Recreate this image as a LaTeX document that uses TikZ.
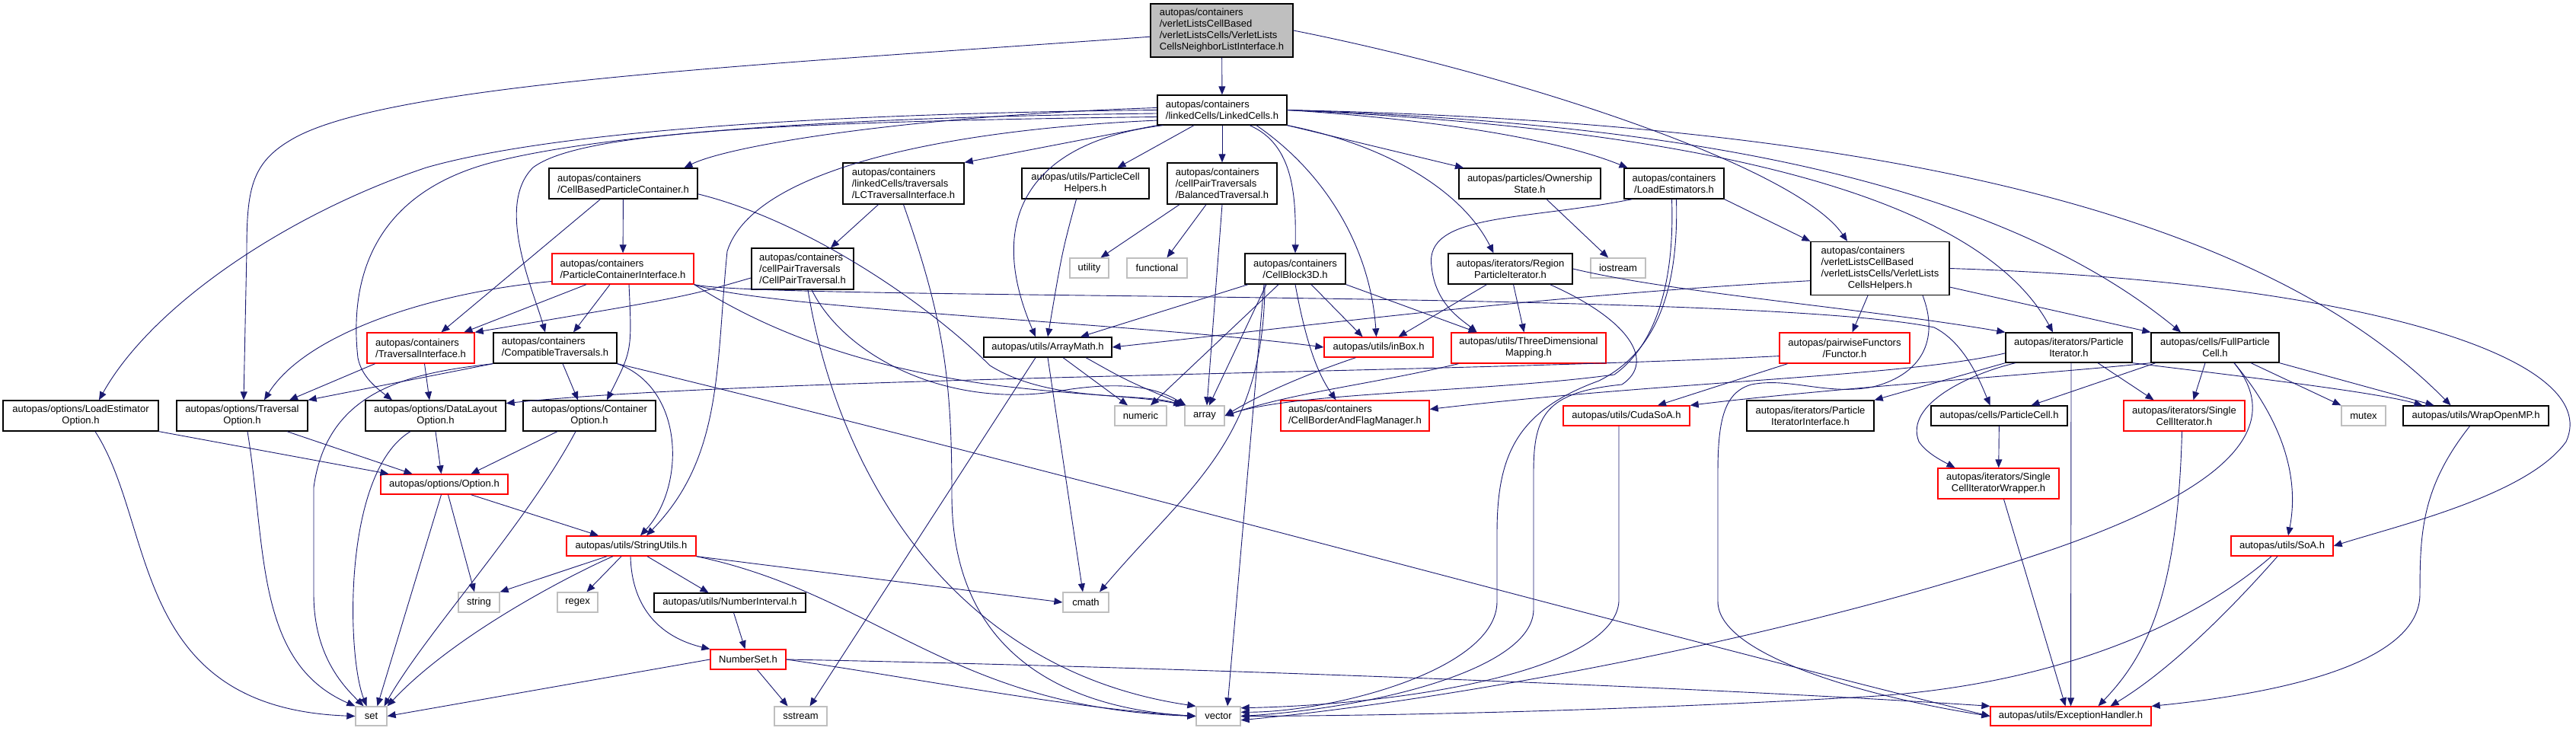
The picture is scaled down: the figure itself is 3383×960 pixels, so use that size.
\documentclass[tikz,border=0pt]{standalone}
\usepackage{fontspec}
\setmainfont{Liberation Sans}
\usetikzlibrary{arrows.meta}
\definecolor{edgeblue}{HTML}{191970}
\definecolor{rootgray}{HTML}{BFBFBF}
\definecolor{sysgray}{HTML}{BFBFBF}
\definecolor{cutred}{HTML}{FF0000}
\newcommand{\lastline}[1]{\null\hfill#1\hfill\null}

\begin{document}
\begin{tikzpicture}[
  x=1pt, y=-1pt,
  font=\fontsize{13}{15}\selectfont,
  dims/.style 2 args={minimum width=#1pt, minimum height=#2pt},
  box/.style={draw=black, line width=1.3pt, fill=white, align=left, inner sep=0pt},
  cutbox/.style={box, draw=cutred},
  sysbox/.style={box, draw=sysgray},
  flow/.style={-{Triangle[length=11pt, width=9pt]}, line width=0.9pt, draw=edgeblue},
]
  \fill[white] (0,0) rectangle (3383,960);
  \useasboundingbox (0,0) rectangle (3383,960);

  % root file and its first include
  \node[box, fill=rootgray, dims={187}{70}] (vlcnli) at (1604.5,40)
    {autopas/containers\\/verletListsCellBased\\/verletListsCells/VerletLists\\\lastline{CellsNeighborListInterface.h}};
  \node[box, dims={170}{39}] (linked-cells) at (1605,144.5)
    {autopas/containers\\\lastline{/linkedCells/LinkedCells.h}};

  % second row
  \node[box, dims={195}{40}] (cell-based) at (818.5,241)
    {autopas/containers\\\lastline{/CellBasedParticleContainer.h}};
  \node[box, dims={159}{54}] (lc-traversal) at (1186.5,241)
    {autopas/containers\\/linkedCells/traversals\\\lastline{/LCTraversalInterface.h}};
  \node[box, dims={167}{40}] (cell-helpers) at (1425.5,241)
    {autopas/utils/ParticleCell\\\lastline{Helpers.h}};
  \node[box, dims={144}{54}] (balanced) at (1605,241)
    {autopas/containers\\/cellPairTraversals\\\lastline{/BalancedTraversal.h}};
  \node[box, dims={186}{40}] (ownership) at (2009,241)
    {autopas/particles/Ownership\\\lastline{State.h}};
  \node[box, dims={131}{40}] (load-estimators) at (2198.5,241)
    {autopas/containers\\\lastline{/LoadEstimators.h}};

  % third row
  \node[cutbox, dims={186}{40}] (container-interface) at (818,353)
    {autopas/containers\\\lastline{/ParticleContainerInterface.h}};
  \node[box, dims={134}{54}] (cellpair) at (1054,353)
    {autopas/containers\\/cellPairTraversals\\\lastline{/CellPairTraversal.h}};
  \node[sysbox, dims={51}{26}] (utility) at (1430.5,352) {utility};
  \node[sysbox, dims={79}{26}] (functional) at (1519.5,352) {functional};
  \node[box, dims={132}{40}] (cell-block) at (1701,353)
    {autopas/containers\\\lastline{/CellBlock3D.h}};
  \node[box, dims={163}{40}] (region-iterator) at (1983.5,353)
    {autopas/iterators/Region\\\lastline{ParticleIterator.h}};
  \node[sysbox, dims={72}{26}] (iostream) at (2125,352) {iostream};
  \node[box, dims={182}{70}] (vlc-helpers) at (2469,352.5)
    {autopas/containers\\/verletListsCellBased\\/verletListsCells/VerletLists\\\lastline{CellsHelpers.h}};

  % fourth row
  \node[cutbox, dims={141}{40}] (traversal-interface) at (552.5,457)
    {autopas/containers\\\lastline{/TraversalInterface.h}};
  \node[box, dims={162}{40}] (compatible) at (729,457)
    {autopas/containers\\\lastline{/CompatibleTraversals.h}};
  \node[box, dims={168}{26}] (array-math) at (1376,456) {autopas/utils/ArrayMath.h};
  \node[cutbox, dims={143}{26}] (in-box) at (1810.5,456) {autopas/utils/inBox.h};
  \node[cutbox, dims={203}{40}] (three-dim) at (2007.5,457)
    {autopas/utils/ThreeDimensional\\\lastline{Mapping.h}};
  \node[cutbox, dims={171}{40}] (functor) at (2422.5,457)
    {autopas/pairwiseFunctors\\\lastline{/Functor.h}};
  \node[box, dims={166}{39}] (particle-iterator) at (2717,456.5)
    {autopas/iterators/Particle\\\lastline{Iterator.h}};
  \node[box, dims={168}{39}] (full-cell) at (2909,456.5)
    {autopas/cells/FullParticle\\\lastline{Cell.h}};

  % fifth row
  \node[box, dims={204}{40}] (load-option) at (106,546)
    {autopas/options/LoadEstimator\\\lastline{Option.h}};
  \node[box, dims={172}{40}] (traversal-option) at (318,546)
    {autopas/options/Traversal\\\lastline{Option.h}};
  \node[box, dims={184}{40}] (layout-option) at (572,546)
    {autopas/options/DataLayout\\\lastline{Option.h}};
  \node[box, dims={174}{40}] (container-option) at (774,546)
    {autopas/options/Container\\\lastline{Option.h}};
  \node[sysbox, dims={68}{26}] (numeric) at (1498,546) {numeric};
  \node[sysbox, dims={52}{26}] (array) at (1582,546) {array};
  \node[cutbox, dims={195}{40}] (border-manager) at (1779.5,546)
    {autopas/containers\\\lastline{/CellBorderAndFlagManager.h}};
  \node[cutbox, dims={166}{26}] (cuda-soa) at (2136,546) {autopas/utils/CudaSoA.h};
  \node[box, dims={167}{40}] (iterator-interface) at (2377.5,546)
    {autopas/iterators/Particle\\\lastline{IteratorInterface.h}};
  \node[box, dims={179}{26}] (particle-cell) at (2625.5,546) {autopas/cells/ParticleCell.h};
  \node[cutbox, dims={159}{40}] (single-iterator) at (2868.5,546)
    {autopas/iterators/Single\\\lastline{CellIterator.h}};
  \node[sysbox, dims={58}{26}] (mutex) at (3104,546) {mutex};
  \node[box, dims={191}{26}] (wrap-openmp) at (3251.5,546) {autopas/utils/WrapOpenMP.h};

  % lower rows
  \node[cutbox, dims={167}{26}] (option) at (583.5,636) {autopas/options/Option.h};
  \node[cutbox, dims={159}{40}] (iterator-wrapper) at (2624.5,635)
    {autopas/iterators/Single\\\lastline{CellIteratorWrapper.h}};
  \node[cutbox, dims={170}{26}] (string-utils) at (829,717) {autopas/utils/StringUtils.h};
  \node[cutbox, dims={134}{26}] (soa) at (2997,717) {autopas/utils/SoA.h};
  \node[sysbox, dims={54}{26}] (string) at (629,791) {string};
  \node[sysbox, dims={53}{26}] (regex) at (758.5,791) {regex};
  \node[box, dims={199}{25}] (number-interval) at (958.5,791.5) {autopas/utils/NumberInterval.h};
  \node[sysbox, dims={60}{26}] (cmath) at (1426,791) {cmath};
  \node[cutbox, dims={99}{26}] (number-set) at (982.5,866) {NumberSet.h};
  \node[sysbox, dims={41}{25}] (set) at (487.5,940.5) {set};
  \node[sysbox, dims={69}{25}] (sstream) at (1051.5,940.5) {sstream};
  \node[sysbox, dims={58}{25}] (vector) at (1600,940.5) {vector};
  \node[cutbox, dims={211}{25}] (exception) at (2719.5,940.5) {autopas/utils/ExceptionHandler.h};

  % includes of the root file
  \draw[flow] (vlcnli) -- (linked-cells);
  \draw[flow] (vlcnli.185) .. controls (1000,85) and (500,110) .. (380,185)
    .. controls (330,215) and (324,250) .. (324,330) -- ([xshift=2pt]traversal-option.north);
  \draw[flow] (vlcnli.east) .. controls (2000,100) and (2360,220) .. ([xshift=-43pt]vlc-helpers.north);

  % includes of LinkedCells.h
  \draw[flow] (linked-cells.178) .. controls (1200,152) and (960,190) .. ([xshift=80pt]cell-based.north);
  \draw[flow] (linked-cells.south west) -- (lc-traversal.north east);
  \draw[flow] ([xshift=-37pt]linked-cells.south) -- ([xshift=42pt]cell-helpers.north);
  \draw[flow] (linked-cells) -- (balanced);
  \draw[flow] (linked-cells.south east) -- ([xshift=-87pt]ownership.north);
  \draw[flow] (linked-cells.east) .. controls (1900,158) and (2050,185) .. ([xshift=-61pt]load-estimators.north);
  \draw[flow] ([xshift=36pt]linked-cells.south) .. controls (1700,190) and (1702,260) .. (cell-block.north);
  \draw[flow] (linked-cells.south east) .. controls (1820,190) and (1920,250) .. ([xshift=-22pt]region-iterator.north);
  \draw[flow] ([xshift=45pt]linked-cells.south) .. controls (1745,230) and (1800,330) .. ([xshift=-3pt]in-box.north);
  \draw[flow] (linked-cells.east) .. controls (2250,170) and (2600,260) .. ([xshift=-21pt]particle-iterator.north);
  \draw[flow] (linked-cells.east) .. controls (2150,160) and (2600,220) .. ([xshift=-45pt]full-cell.north);
  \draw[flow] (linked-cells.east) .. controls (2400,160) and (2950,260) .. ([xshift=-33pt]wrap-openmp.north);
  \draw[flow] (linked-cells.180) .. controls (1000,150) and (700,180) .. (560,220)
    .. controls (380,280) and (200,400) .. ([xshift=24pt]load-option.north);
  \draw[flow] (linked-cells.183) .. controls (1000,155) and (750,185) .. (640,215)
    .. controls (480,260) and (460,380) .. (470,470) .. controls (475,495) and (495,510) .. ([xshift=-57pt]layout-option.north);
  \draw[flow] (linked-cells.186) .. controls (1000,160) and (760,175) .. (700,220)
    .. controls (650,270) and (700,380) .. ([xshift=-13pt]compatible.north);
  \draw[flow] (linked-cells.189) .. controls (1250,170) and (990,220) .. (955,330)
    .. controls (940,480) and (950,600) .. ([xshift=20pt]string-utils.north);
  \draw[flow] ([xshift=8pt]linked-cells.south west) .. controls (1360,185) and (1290,280) .. ([xshift=-16pt]array-math.north);

  % containers
  \draw[flow] (cell-based) -- (container-interface);
  \draw[flow] ([xshift=-30pt]cell-based.south) -- ([xshift=27pt]traversal-interface.north);
  \draw[flow] (cell-based.-8) .. controls (1060,290) and (1220,400) .. (1300,480)
    .. controls (1380,530) and (1500,515) .. ([xshift=-3pt]array.north west);
  \draw[flow] ([xshift=-48pt]container-interface.south) -- ([xshift=57pt]traversal-interface.north);
  \draw[flow] ([xshift=-17pt]container-interface.south) -- ([xshift=24pt]compatible.north);
  \draw[flow] (container-interface.190) .. controls (560,385) and (400,440) .. ([xshift=29pt]traversal-option.north);
  \draw[flow] ([xshift=8pt]container-interface.south) .. controls (830,460) .. ([xshift=23pt]container-option.north);
  \draw[flow] (container-interface.south east) .. controls (1000,405) and (1500,425) .. (in-box.west);
  \draw[flow] (container-interface.south east) .. controls (1000,395) and (2300,380) .. (2540,430)
    .. controls (2580,450) and (2600,500) .. ([xshift=-12pt]particle-cell.north);
  \draw[flow] (container-interface.south east) .. controls (1000,430) and (1120,480) .. (1300,505)
    .. controls (1420,520) and (1500,520) .. (array.north west);
  \draw[flow] ([xshift=-33pt]lc-traversal.south) -- ([xshift=37pt]cellpair.north);
  \draw[flow] (lc-traversal.south) .. controls (1240,420) and (1250,500) .. (1250,650)
    .. controls (1250,860) and (1400,930) .. (vector.west);
  \draw[flow] (cellpair.190) .. controls (900,390) .. (traversal-interface.north east);
  \draw[flow] ([xshift=7pt]cellpair.south) .. controls (1100,620) and (1250,880) .. (vector.north west);
  \draw[flow] ([xshift=12pt]cellpair.south) .. controls (1110,470) and (1250,540) .. (1400,512)
    .. controls (1480,500) and (1520,510) .. ([xshift=2pt]array.north west);

  % traversals and options
  \draw[flow] ([xshift=-60pt]traversal-interface.south) -- ([xshift=62pt]traversal-option.north);
  \draw[flow] ([xshift=5pt]traversal-interface.south) -- ([xshift=-8pt]layout-option.north);
  \draw[flow] (compatible.south west) -- (traversal-option.north east);
  \draw[flow] ([xshift=10pt]compatible.south) -- ([xshift=-15pt]container-option.north);
  \draw[flow] (compatible.south west) .. controls (540,490) and (430,510) .. (412,640) -- (412,780)
    .. controls (412,860) and (450,900) .. ([xshift=-10pt]set.north);
  \draw[flow] (compatible.south east) .. controls (900,510) and (900,640) .. ([xshift=12pt]string-utils.north);
  \draw[flow] (compatible.south east) .. controls (1400,620) and (2200,840) .. (exception.west);
  \draw[flow] (load-option.south east) -- ([xshift=-73pt]option.north);
  \draw[flow] ([xshift=19pt]load-option.south) .. controls (205,690) and (170,930) .. (set.west);
  \draw[flow] ([xshift=59pt]traversal-option.south) -- ([xshift=-42pt]option.north);
  \draw[flow] ([xshift=7pt]traversal-option.south) .. controls (350,720) and (335,870) .. (set.north west);
  \draw[flow] (layout-option.south) -- ([xshift=-4pt]option.north);
  \draw[flow] ([xshift=-33pt]layout-option.south) .. controls (450,620) and (455,860) .. ([xshift=-6pt]set.north);
  \draw[flow] ([xshift=-42pt]container-option.south) -- ([xshift=35pt]option.north);
  \draw[flow] ([xshift=-18pt]container-option.south) .. controls (690,690) and (560,830) .. ([xshift=17pt]set.north);
  \draw[flow] ([xshift=-4pt]option.south) -- ([xshift=8pt]set.north);
  \draw[flow] ([xshift=5pt]option.south) -- ([xshift=-6pt]string.north);
  \draw[flow] ([xshift=35pt]option.south) -- ([xshift=-43pt]string-utils.north);

  % utils
  \draw[flow] ([xshift=-24pt]string-utils.south) .. controls (760,750) and (600,830) .. (set.north east);
  \draw[flow] ([xshift=-32pt]string-utils.south) -- (string.north east);
  \draw[flow] ([xshift=-13pt]string-utils.south) -- ([xshift=12pt]regex.north);
  \draw[flow] ([xshift=-1pt]string-utils.south) .. controls (830,810) and (880,840) .. (number-set.north west);
  \draw[flow] ([xshift=21pt]string-utils.south) -- ([xshift=-28pt]number-interval.north);
  \draw[flow] (string-utils.south east) -- (cmath.west);
  \draw[flow] (string-utils.south east) .. controls (1150,780) and (1250,930) .. (vector.west);
  \draw[flow] ([xshift=5pt]number-interval.south) -- ([xshift=-4pt]number-set.north);
  \draw[flow] (number-set.west) -- (set.east);
  \draw[flow] ([xshift=12pt]number-set.south) -- ([xshift=-17pt]sstream.north);
  \draw[flow] (number-set.east) .. controls (1200,890) and (1400,930) .. (vector.west);
  \draw[flow] (number-set.east) .. controls (1500,875) and (2200,900) .. (exception.north west);
  \draw[flow] ([xshift=-16pt]array-math.south) -- ([xshift=12pt]sstream.north);
  \draw[flow] (array-math.south) -- ([xshift=-4pt]cmath.north);
  \draw[flow] ([xshift=20pt]array-math.south) -- ([xshift=-17pt]numeric.north);
  \draw[flow] ([xshift=50pt]array-math.south) .. controls (1480,500) .. ([xshift=1pt]array.north west);
  \draw[flow] ([xshift=-12pt]cell-helpers.south) .. controls (1395,330) .. (array-math.north);
  \draw[flow] ([xshift=-56pt]balanced.south) -- ([xshift=15pt]utility.north);
  \draw[flow] ([xshift=-21pt]balanced.south) -- ([xshift=13pt]functional.north);
  \draw[flow] (balanced.south) -- ([xshift=3pt]array.north);
  \draw[flow] ([xshift=22pt]ownership.south) -- ([xshift=-13pt]iostream.north);

  % cell block and load estimators
  \draw[flow] (cell-block.south) .. controls (1715,450) and (1730,490) .. ([xshift=-25pt]border-manager.north);
  \draw[flow] ([xshift=-62pt]cell-block.south) -- ([xshift=43pt]array-math.north);
  \draw[flow] ([xshift=21pt]cell-block.south) -- ([xshift=-21pt]in-box.north);
  \draw[flow] (cell-block.south east) -- ([xshift=-68pt]three-dim.north);
  \draw[flow] ([xshift=-22pt]cell-block.south) -- ([xshift=13pt]numeric.north);
  \draw[flow] ([xshift=-38pt]cell-block.south) -- ([xshift=6pt]array.north);
  \draw[flow] ([xshift=-40pt]cell-block.south) .. controls (1660,580) and (1560,640) .. ([xshift=18pt]cmath.north);
  \draw[flow] ([xshift=-41pt]cell-block.south) -- ([xshift=12pt]vector.north);
  \draw[flow] (load-estimators.south east) -- (vlc-helpers.north west);
  \draw[flow] ([xshift=-55pt]load-estimators.south) .. controls (2000,290) and (1870,280) .. (1880,350)
    .. controls (1885,400) and (1920,420) .. ([xshift=-68pt]three-dim.north);
  \draw[flow] ([xshift=3pt]load-estimators.south) .. controls (2205,390) and (2170,465) .. (2100,500)
    .. controls (1990,540) and (1966,600) .. (1966,700) -- (1966,790)
    .. controls (1966,880) and (1750,935) .. (vector.10);
  \draw[flow] ([xshift=-3pt]load-estimators.south) .. controls (2200,390) and (2165,460) .. (2120,492)
    .. controls (1950,515) and (1700,515) .. (array.east);
  \draw[flow] ([xshift=-31pt]region-iterator.south) -- ([xshift=26pt]in-box.north);
  \draw[flow] ([xshift=4pt]region-iterator.south) -- ([xshift=-6pt]three-dim.north);
  \draw[flow] (region-iterator.east) .. controls (2200,385) and (2450,405) .. (particle-iterator.north west);
  \draw[flow] ([xshift=52pt]region-iterator.south) .. controls (2140,420) and (2175,475) .. (2130,505)
    .. controls (2030,515) and (2014,545) .. (2014,620) -- (2014,800)
    .. controls (2014,880) and (1800,930) .. (vector.east);
  \draw[flow] ([xshift=-16pt]vlc-helpers.south) -- ([xshift=10pt]functor.north);
  \draw[flow] (vlc-helpers.190) .. controls (2000,390) and (1700,430) .. (array-math.east);
  \draw[flow] (vlc-helpers.-15) -- (full-cell.north west);
  \draw[flow] (vlc-helpers.east) .. controls (3100,370) and (3420,470) .. (3370,580)
    .. controls (3320,650) and (3150,690) .. (soa.east);
  \draw[flow] ([xshift=56pt]vlc-helpers.south) .. controls (2545,440) and (2530,490) .. (2460,508)
    .. controls (2400,520) and (2350,495) .. (2300,505)
    .. controls (2265,515) and (2256,550) .. (2256,620) -- (2256,790)
    .. controls (2256,860) and (2450,915) .. (exception.west);
  \draw[flow] ([xshift=-92pt]three-dim.south) .. controls (1800,505) and (1700,515) .. (array.east);
  \draw[flow] ([xshift=-30pt]in-box.south) .. controls (1720,490) and (1660,515) .. (array.east);

  % functors, iterators and cells
  \draw[flow] (functor.187) .. controls (1900,490) and (1000,495) .. (layout-option.10);
  \draw[flow] ([xshift=-75pt]functor.south) -- ([xshift=41pt]cuda-soa.north);
  \draw[flow] ([xshift=3pt]particle-iterator.south) -- (exception.north);
  \draw[flow] ([xshift=38pt]particle-iterator.south) -- ([xshift=-40pt]single-iterator.north);
  \draw[flow] (particle-iterator.south east) .. controls (2950,495) and (3120,515) .. ([xshift=-70pt]wrap-openmp.north);
  \draw[flow] ([xshift=-70pt]particle-iterator.south) .. controls (2590,490) and (2500,530) .. (2520,580)
    .. controls (2530,595) and (2550,605) .. ([xshift=-57pt]iterator-wrapper.north);
  \draw[flow] (particle-iterator.south west) -- (iterator-interface.north east);
  \draw[flow] (particle-iterator.185) .. controls (2500,495) and (2200,500) .. (border-manager.5);
  \draw[flow] ([xshift=-78pt]full-cell.south) -- ([xshift=42pt]particle-cell.north);
  \draw[flow] ([xshift=-13pt]full-cell.south) -- ([xshift=12pt]single-iterator.north);
  \draw[flow] ([xshift=47pt]full-cell.south) -- (mutex.north west);
  \draw[flow] (full-cell.south east) -- ([xshift=-55pt]wrap-openmp.north);
  \draw[flow] ([xshift=25pt]full-cell.south) .. controls (2970,520) and (3025,600) .. ([xshift=8pt]soa.north);
  \draw[flow] ([xshift=25pt]full-cell.south) .. controls (3010,570) and (2900,650) .. (2700,720)
    .. controls (2350,840) and (1900,920) .. (vector.-10);
  \draw[flow] (full-cell.south west) .. controls (2700,490) and (2400,510) .. (cuda-soa.north east);
  \draw[flow] ([xshift=-3pt]single-iterator.south) .. controls (2860,780) and (2820,860) .. ([xshift=36pt]exception.north);
  \draw[flow] ([xshift=7pt]iterator-wrapper.south) -- ([xshift=-7pt]exception.north);
  \draw[flow] (particle-cell) -- (iterator-wrapper);
  \draw[flow] ([xshift=-14pt]soa.south) .. controls (2880,820) and (2700,900) .. (2450,915)
    .. controls (2100,935) and (1800,940) .. (vector.east);
  \draw[flow] ([xshift=-6pt]soa.south) .. controls (2930,800) and (2850,880) .. ([xshift=52pt]exception.north);
  \draw[flow] ([xshift=-8pt]wrap-openmp.south) .. controls (3180,640) and (3178,700) .. (3178,780)
    .. controls (3178,870) and (3000,910) .. (exception.north east);
  \draw[flow] ([xshift=-10pt]cuda-soa.south) -- (2126,790) .. controls (2120,880) and (1850,925) .. (vector.20);
\end{tikzpicture}
\end{document}
